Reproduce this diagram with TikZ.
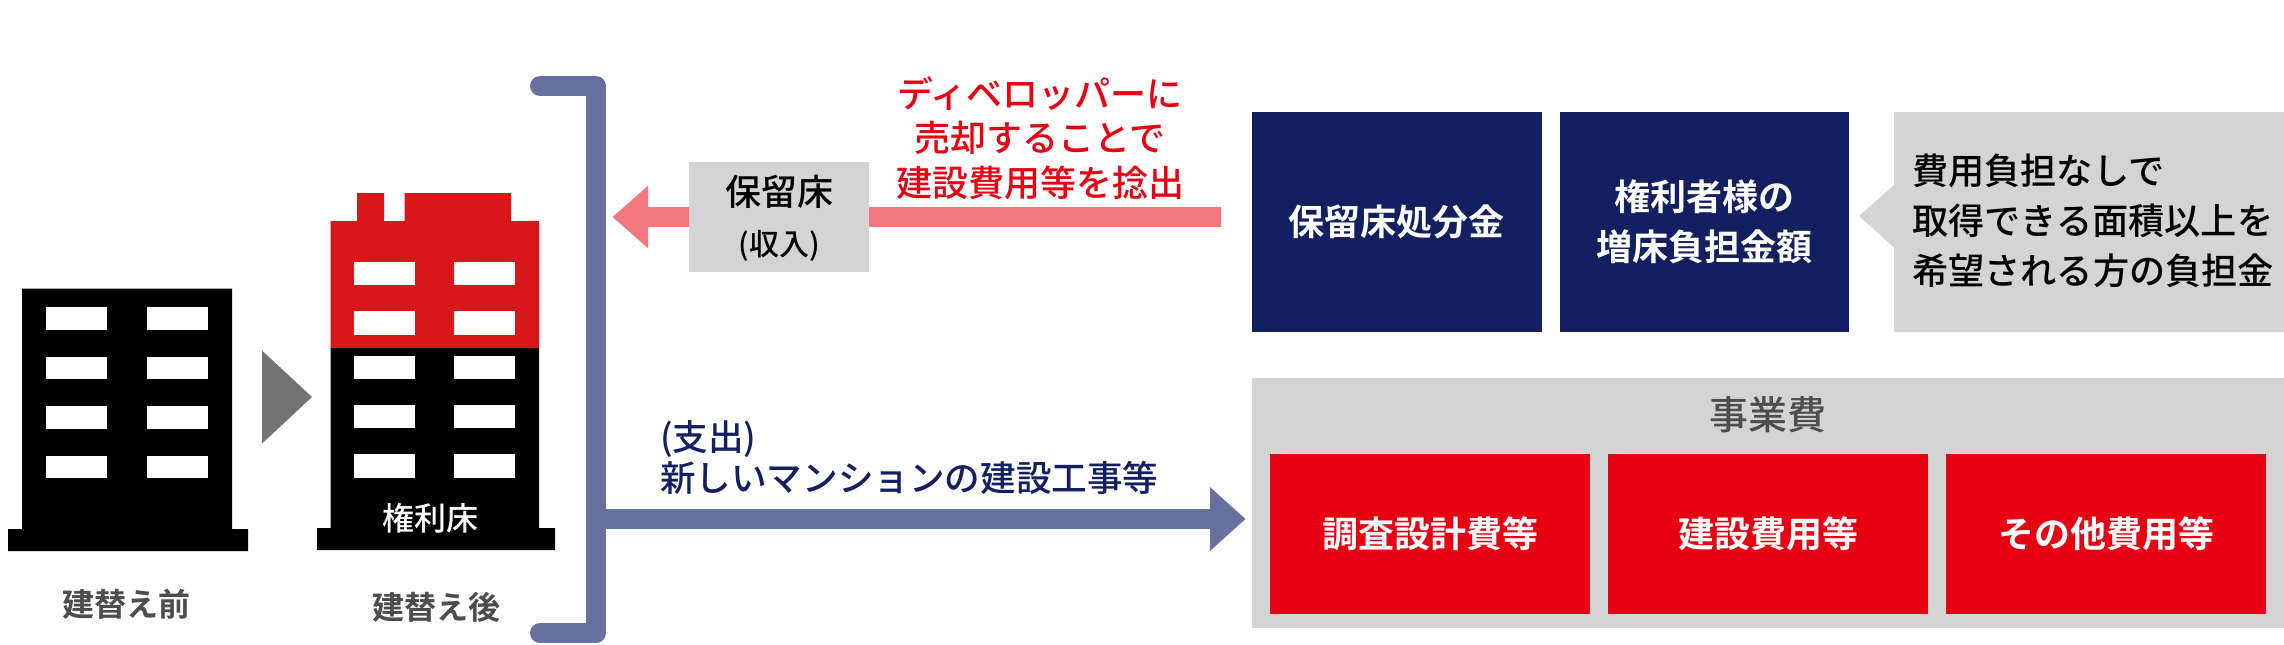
\documentclass[tikz,border=0pt]{standalone}
\usepackage{fontspec}
\setmainfont{Noto Sans CJK JP Medium}[BoldFont={Noto Sans CJK JP Bold}]
\usetikzlibrary{arrows.meta}
\definecolor{navy}{HTML}{121F60}
\definecolor{slateb}{HTML}{68709F}
\definecolor{pinkar}{HTML}{F4777F}
\definecolor{greybox}{HTML}{D4D4D4}
\definecolor{redbox}{HTML}{E60012}
\definecolor{bldred}{HTML}{D7171A}
\definecolor{txtgrey}{HTML}{4D4D4D}
\tikzset{
  x=0.5pt,y=-0.5pt,
  txt/.style={inner sep=0pt,outer sep=0pt,align=center,font=\fontsize{18}{24.75}\selectfont},
  navybox/.style={txt,fill=navy,text=white,minimum width=144.8pt,minimum height=110pt,font=\fontsize{18}{24.75}\selectfont\bfseries},
  redcell/.style={txt,fill=redbox,text=white,minimum width=160pt,minimum height=80pt,font=\fontsize{18}{24.75}\selectfont\bfseries},
  win/.style={fill=white},
  bld/.style={fill=black},
  flow/.style={line width=10pt,line cap=butt},
}
\begin{document}
\begin{tikzpicture}
\useasboundingbox (0,0) rectangle (2284,644);
% building before
\fill[bld] (22,288.7) -- (232,288.7) -- (232,529) -- (248,529) -- (248,551) -- (8,551) -- (8,529) -- (22,529) -- cycle;
\foreach \xa/\xb in {46/107,147/208}
  \foreach \ya/\yb in {306.6/329.6,356.5/379,406/429,455.5/478}
    \fill[win] (\xa,\ya) rectangle (\xb,\yb);
% transition triangle
\fill[fill=black!55] (262,350.5) -- (312,397) -- (262,443.6) -- cycle;
% building after
\fill[bld] (330.5,348) -- (539,348) -- (539,528) -- (555,528) -- (555,550) -- (317,550) -- (317,528) -- (330.5,528) -- cycle;
\fill[bldred] (330.5,348) -- (330.5,221) -- (357,221) -- (357,193) -- (384,193) -- (384,221) -- (404.5,221) -- (404.5,193) -- (511,193) -- (511,221) -- (539,221) -- (539,348) -- cycle;
\foreach \xa/\xb in {354/415,454/515}
  \foreach \ya/\yb in {262/285,311/334.5,356/379,405/428,454/477.5}
    \fill[win] (\xa,\ya) rectangle (\xb,\yb);
\node[txt,text=white,font=\fontsize{16}{20}\selectfont] (kenri) at (430,518) {権利床};
\node[txt,text=txtgrey,font=\fontsize{16}{20}\selectfont\bfseries] (before) at (126,604) {建替え前};
\node[txt,text=txtgrey,font=\fontsize{16}{20}\selectfont\bfseries] (after) at (436,607.5) {建替え後};
% bracket
\coordinate (brTop) at (540,86);
\coordinate (brTopR) at (596,86);
\coordinate (brBotR) at (596,633);
\coordinate (brBot) at (540,633);
\draw[slateb,line width=10pt,line cap=round,line join=round] (brTop) -- (brTopR) -- (brBotR) -- (brBot);
% pink arrow
\coordinate (pinkStart) at (1221,217);
\coordinate (pinkEnd) at (612.5,217);
\draw[flow,pinkar,-{Triangle[width=30pt,length=17.75pt]}] (pinkStart) -- (pinkEnd);
\node[txt,fill=greybox,minimum width=90pt,minimum height=54.85pt] (hoho) at (779,217) {};
\node[txt] (hohoT) at (779.6,192) {保留床};
\node[txt,font=\fontsize{15}{18}\selectfont] (hohoS) at (779,245.7) {(収入)};
\node[txt,text=redbox,font=\fontsize{18}{22.2}\selectfont] (dev) at (1040,138) {ディベロッパーに\\売却することで\\建設費用等を捻出};
% purple arrow
\coordinate (purpStart) at (596,519);
\coordinate (purpEnd) at (1245.6,519);
\draw[flow,slateb,-{Triangle[width=30.8pt,length=17.8pt]}] (purpStart) -- (purpEnd);
\node[txt,text=navy,anchor=west,align=left,font=\fontsize{17.8}{20.5}\selectfont] (sp) at (660,458) {(支出)\\新しいマンションの建設工事等};
% navy boxes
\node[navybox] (n1) at (1396.8,222) {保留床処分金};
\node[navybox] (n2) at (1704.3,222) {権利者様の\\増床負担金額};
% callout
\path[fill=greybox] (2284,112) -- (1894,112) -- (1894,185) -- (1859,216) -- (1894,247.5) -- (1894,332) -- (2284,332) -- cycle;
\node[txt,anchor=west,align=left,font=\fontsize{18.1}{24.9}\selectfont] (call) at (1912,221) {費用負担なしで\\取得できる面積以上を\\希望される方の負担金};
% project box
\fill[greybox] (1252,378) rectangle (2284,628);
\node[txt,text=txtgrey,font=\fontsize{19.5}{24}\selectfont] (jigyo) at (1768,415) {事業費};
\node[redcell] (r1) at (1430,534) {\raisebox{1pt}{調査設計費等}};
\node[redcell] (r2) at (1768,534) {\raisebox{1pt}{建設費用等}};
\node[redcell] (r3) at (2106,534) {\raisebox{1pt}{その他費用等}};
\end{tikzpicture}
\end{document}
